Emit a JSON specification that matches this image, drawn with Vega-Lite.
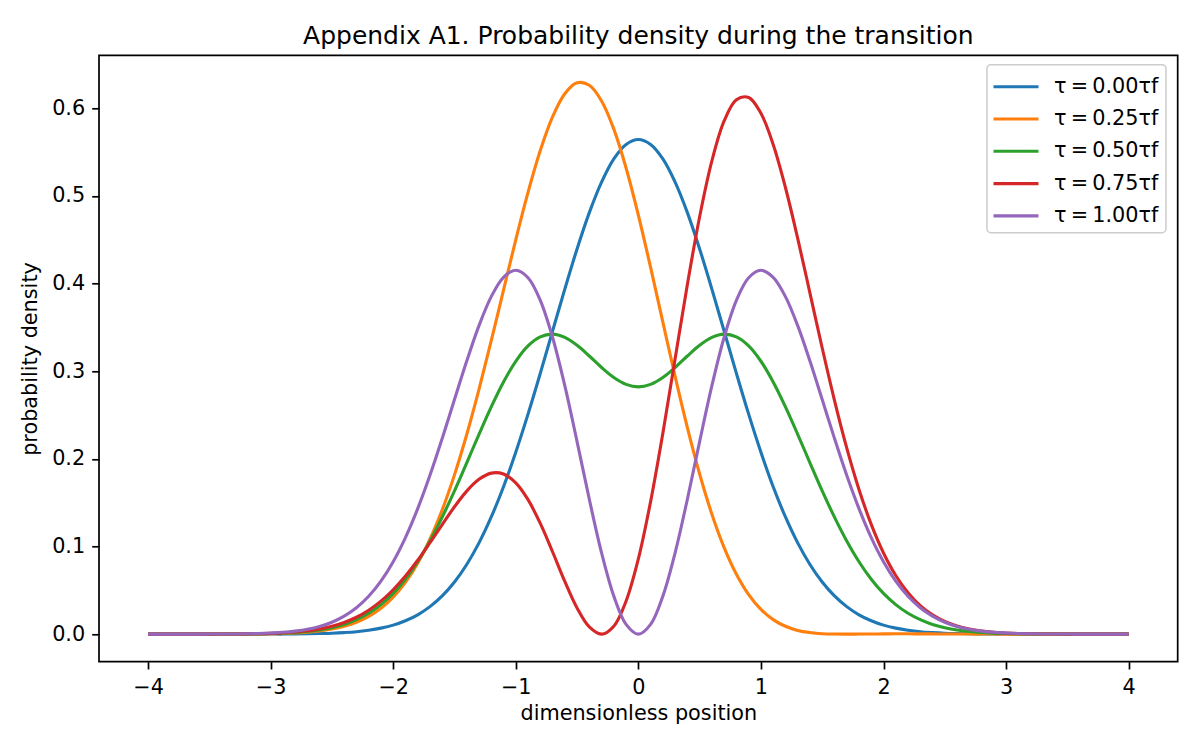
{
  "$schema": "https://vega.github.io/schema/vega-lite/v6.json",
  "width": 1078.7,
  "height": 606.4,
  "autosize": {"type": "none"},
  "padding": {"left": 99, "top": 55.3, "right": 22, "bottom": 88},
  "title": {
    "text": "Appendix A1. Probability density during the transition",
    "fontSize": 25,
    "fontWeight": "normal",
    "color": "#000000",
    "anchor": "middle",
    "offset": 6
  },
  "data": {
    "values": [
      {"s":"0.00","x":-4.0,"y":0},{"s":"0.00","x":-3.9,"y":0},{"s":"0.00","x":-3.8,"y":0},{"s":"0.00","x":-3.7,"y":0},{"s":"0.00","x":-3.6,"y":0},
      {"s":"0.00","x":-3.5,"y":0},{"s":"0.00","x":-3.4,"y":0},{"s":"0.00","x":-3.3,"y":0},{"s":"0.00","x":-3.2,"y":0},{"s":"0.00","x":-3.1,"y":0},
      {"s":"0.00","x":-3.0,"y":0.0001},{"s":"0.00","x":-2.9,"y":0.0001},{"s":"0.00","x":-2.8,"y":0.0002},{"s":"0.00","x":-2.7,"y":0.0004},{"s":"0.00","x":-2.6,"y":0.0007},
      {"s":"0.00","x":-2.5,"y":0.0011},{"s":"0.00","x":-2.4,"y":0.0018},{"s":"0.00","x":-2.3,"y":0.0028},{"s":"0.00","x":-2.2,"y":0.0045},{"s":"0.00","x":-2.1,"y":0.0069},
      {"s":"0.00","x":-2.0,"y":0.0103},{"s":"0.00","x":-1.9,"y":0.0153},{"s":"0.00","x":-1.8,"y":0.0221},{"s":"0.00","x":-1.7,"y":0.0314},{"s":"0.00","x":-1.6,"y":0.0436},
      {"s":"0.00","x":-1.5,"y":0.0595},{"s":"0.00","x":-1.4,"y":0.0795},{"s":"0.00","x":-1.3,"y":0.1041},{"s":"0.00","x":-1.2,"y":0.1337},{"s":"0.00","x":-1.1,"y":0.1682},
      {"s":"0.00","x":-1.0,"y":0.2076},{"s":"0.00","x":-0.9,"y":0.2510},{"s":"0.00","x":-0.8,"y":0.2975},{"s":"0.00","x":-0.7,"y":0.3456},{"s":"0.00","x":-0.6,"y":0.3936},
      {"s":"0.00","x":-0.5,"y":0.4394},{"s":"0.00","x":-0.4,"y":0.4808},{"s":"0.00","x":-0.3,"y":0.5156},{"s":"0.00","x":-0.2,"y":0.5421},{"s":"0.00","x":-0.1,"y":0.5586},
      {"s":"0.00","x":0.0,"y":0.5642},
      {"s":"0.00","x":0.1,"y":0.5586},{"s":"0.00","x":0.2,"y":0.5421},{"s":"0.00","x":0.3,"y":0.5156},{"s":"0.00","x":0.4,"y":0.4808},{"s":"0.00","x":0.5,"y":0.4394},
      {"s":"0.00","x":0.6,"y":0.3936},{"s":"0.00","x":0.7,"y":0.3456},{"s":"0.00","x":0.8,"y":0.2975},{"s":"0.00","x":0.9,"y":0.2510},{"s":"0.00","x":1.0,"y":0.2076},
      {"s":"0.00","x":1.1,"y":0.1682},{"s":"0.00","x":1.2,"y":0.1337},{"s":"0.00","x":1.3,"y":0.1041},{"s":"0.00","x":1.4,"y":0.0795},{"s":"0.00","x":1.5,"y":0.0595},
      {"s":"0.00","x":1.6,"y":0.0436},{"s":"0.00","x":1.7,"y":0.0314},{"s":"0.00","x":1.8,"y":0.0221},{"s":"0.00","x":1.9,"y":0.0153},{"s":"0.00","x":2.0,"y":0.0103},
      {"s":"0.00","x":2.1,"y":0.0069},{"s":"0.00","x":2.2,"y":0.0045},{"s":"0.00","x":2.3,"y":0.0028},{"s":"0.00","x":2.4,"y":0.0018},{"s":"0.00","x":2.5,"y":0.0011},
      {"s":"0.00","x":2.6,"y":0.0007},{"s":"0.00","x":2.7,"y":0.0004},{"s":"0.00","x":2.8,"y":0.0002},{"s":"0.00","x":2.9,"y":0.0001},{"s":"0.00","x":3.0,"y":0.0001},
      {"s":"0.00","x":3.1,"y":0},{"s":"0.00","x":3.2,"y":0},{"s":"0.00","x":3.3,"y":0},{"s":"0.00","x":3.4,"y":0},{"s":"0.00","x":3.5,"y":0},
      {"s":"0.00","x":3.6,"y":0},{"s":"0.00","x":3.7,"y":0},{"s":"0.00","x":3.8,"y":0},{"s":"0.00","x":3.9,"y":0},{"s":"0.00","x":4.0,"y":0},

      {"s":"0.25","x":-4.0,"y":0},{"s":"0.25","x":-3.9,"y":0},{"s":"0.25","x":-3.8,"y":0},{"s":"0.25","x":-3.7,"y":0},{"s":"0.25","x":-3.6,"y":0},
      {"s":"0.25","x":-3.5,"y":0},{"s":"0.25","x":-3.4,"y":0},{"s":"0.25","x":-3.3,"y":0.0001},{"s":"0.25","x":-3.2,"y":0.0002},{"s":"0.25","x":-3.1,"y":0.0003},
      {"s":"0.25","x":-3.0,"y":0.0005},{"s":"0.25","x":-2.9,"y":0.0008},{"s":"0.25","x":-2.8,"y":0.0013},{"s":"0.25","x":-2.7,"y":0.0022},{"s":"0.25","x":-2.6,"y":0.0036},
      {"s":"0.25","x":-2.5,"y":0.0058},{"s":"0.25","x":-2.4,"y":0.0090},{"s":"0.25","x":-2.3,"y":0.0136},{"s":"0.25","x":-2.2,"y":0.0203},{"s":"0.25","x":-2.1,"y":0.0296},
      {"s":"0.25","x":-2.0,"y":0.0423},{"s":"0.25","x":-1.9,"y":0.0591},{"s":"0.25","x":-1.8,"y":0.0809},{"s":"0.25","x":-1.7,"y":0.1083},{"s":"0.25","x":-1.6,"y":0.1418},
      {"s":"0.25","x":-1.5,"y":0.1817},{"s":"0.25","x":-1.4,"y":0.2277},{"s":"0.25","x":-1.3,"y":0.2792},{"s":"0.25","x":-1.2,"y":0.3347},{"s":"0.25","x":-1.1,"y":0.3924},
      {"s":"0.25","x":-1.0,"y":0.4498},{"s":"0.25","x":-0.9,"y":0.5039},{"s":"0.25","x":-0.8,"y":0.5517},{"s":"0.25","x":-0.7,"y":0.5901},{"s":"0.25","x":-0.6,"y":0.6165},
      {"s":"0.25","x":-0.5,"y":0.6289},{"s":"0.25","x":-0.4,"y":0.6261},{"s":"0.25","x":-0.3,"y":0.6082},{"s":"0.25","x":-0.2,"y":0.5761},{"s":"0.25","x":-0.1,"y":0.5318},
      {"s":"0.25","x":0.0,"y":0.4781},
      {"s":"0.25","x":0.1,"y":0.4184},{"s":"0.25","x":0.2,"y":0.3559},{"s":"0.25","x":0.3,"y":0.2940},{"s":"0.25","x":0.4,"y":0.2356},{"s":"0.25","x":0.5,"y":0.1827},
      {"s":"0.25","x":0.6,"y":0.1369},{"s":"0.25","x":0.7,"y":0.0988},{"s":"0.25","x":0.8,"y":0.0684},{"s":"0.25","x":0.9,"y":0.0452},{"s":"0.25","x":1.0,"y":0.0283},
      {"s":"0.25","x":1.1,"y":0.0166},{"s":"0.25","x":1.2,"y":0.0090},{"s":"0.25","x":1.3,"y":0.0043},{"s":"0.25","x":1.4,"y":0.0018},{"s":"0.25","x":1.5,"y":0.0005},
      {"s":"0.25","x":1.6,"y":0.0001},{"s":"0.25","x":1.7,"y":0},{"s":"0.25","x":1.8,"y":0.0001},{"s":"0.25","x":1.9,"y":0.0002},{"s":"0.25","x":2.0,"y":0.0003},
      {"s":"0.25","x":2.1,"y":0.0004},{"s":"0.25","x":2.2,"y":0.0004},{"s":"0.25","x":2.3,"y":0.0003},{"s":"0.25","x":2.4,"y":0.0003},{"s":"0.25","x":2.5,"y":0.0002},
      {"s":"0.25","x":2.6,"y":0.0002},{"s":"0.25","x":2.7,"y":0.0001},{"s":"0.25","x":2.8,"y":0.0001},{"s":"0.25","x":2.9,"y":0.0001},{"s":"0.25","x":3.0,"y":0},
      {"s":"0.25","x":3.1,"y":0},{"s":"0.25","x":3.2,"y":0},{"s":"0.25","x":3.3,"y":0},{"s":"0.25","x":3.4,"y":0},{"s":"0.25","x":3.5,"y":0},
      {"s":"0.25","x":3.6,"y":0},{"s":"0.25","x":3.7,"y":0},{"s":"0.25","x":3.8,"y":0},{"s":"0.25","x":3.9,"y":0},{"s":"0.25","x":4.0,"y":0},

      {"s":"0.50","x":-4.0,"y":0},{"s":"0.50","x":-3.9,"y":0},{"s":"0.50","x":-3.8,"y":0},{"s":"0.50","x":-3.7,"y":0},{"s":"0.50","x":-3.6,"y":0},
      {"s":"0.50","x":-3.5,"y":0},{"s":"0.50","x":-3.4,"y":0.0001},{"s":"0.50","x":-3.3,"y":0.0001},{"s":"0.50","x":-3.2,"y":0.0002},{"s":"0.50","x":-3.1,"y":0.0004},
      {"s":"0.50","x":-3.0,"y":0.0007},{"s":"0.50","x":-2.9,"y":0.0011},{"s":"0.50","x":-2.8,"y":0.0019},{"s":"0.50","x":-2.7,"y":0.0030},{"s":"0.50","x":-2.6,"y":0.0047},
      {"s":"0.50","x":-2.5,"y":0.0074},{"s":"0.50","x":-2.4,"y":0.0111},{"s":"0.50","x":-2.3,"y":0.0165},{"s":"0.50","x":-2.2,"y":0.0238},{"s":"0.50","x":-2.1,"y":0.0337},
      {"s":"0.50","x":-2.0,"y":0.0465},{"s":"0.50","x":-1.9,"y":0.0627},{"s":"0.50","x":-1.8,"y":0.0826},{"s":"0.50","x":-1.7,"y":0.1063},{"s":"0.50","x":-1.6,"y":0.1335},
      {"s":"0.50","x":-1.5,"y":0.1635},{"s":"0.50","x":-1.4,"y":0.1955},{"s":"0.50","x":-1.3,"y":0.2280},{"s":"0.50","x":-1.2,"y":0.2593},{"s":"0.50","x":-1.1,"y":0.2877},
      {"s":"0.50","x":-1.0,"y":0.3113},{"s":"0.50","x":-0.9,"y":0.3288},{"s":"0.50","x":-0.8,"y":0.3391},{"s":"0.50","x":-0.7,"y":0.3422},{"s":"0.50","x":-0.6,"y":0.3385},
      {"s":"0.50","x":-0.5,"y":0.3295},{"s":"0.50","x":-0.4,"y":0.3173},{"s":"0.50","x":-0.3,"y":0.3042},{"s":"0.50","x":-0.2,"y":0.2927},{"s":"0.50","x":-0.1,"y":0.2849},
      {"s":"0.50","x":0.0,"y":0.2821},
      {"s":"0.50","x":0.1,"y":0.2849},{"s":"0.50","x":0.2,"y":0.2927},{"s":"0.50","x":0.3,"y":0.3042},{"s":"0.50","x":0.4,"y":0.3173},{"s":"0.50","x":0.5,"y":0.3295},
      {"s":"0.50","x":0.6,"y":0.3385},{"s":"0.50","x":0.7,"y":0.3422},{"s":"0.50","x":0.8,"y":0.3391},{"s":"0.50","x":0.9,"y":0.3288},{"s":"0.50","x":1.0,"y":0.3113},
      {"s":"0.50","x":1.1,"y":0.2877},{"s":"0.50","x":1.2,"y":0.2593},{"s":"0.50","x":1.3,"y":0.2280},{"s":"0.50","x":1.4,"y":0.1955},{"s":"0.50","x":1.5,"y":0.1635},
      {"s":"0.50","x":1.6,"y":0.1335},{"s":"0.50","x":1.7,"y":0.1063},{"s":"0.50","x":1.8,"y":0.0826},{"s":"0.50","x":1.9,"y":0.0627},{"s":"0.50","x":2.0,"y":0.0465},
      {"s":"0.50","x":2.1,"y":0.0337},{"s":"0.50","x":2.2,"y":0.0238},{"s":"0.50","x":2.3,"y":0.0165},{"s":"0.50","x":2.4,"y":0.0111},{"s":"0.50","x":2.5,"y":0.0074},
      {"s":"0.50","x":2.6,"y":0.0047},{"s":"0.50","x":2.7,"y":0.0030},{"s":"0.50","x":2.8,"y":0.0019},{"s":"0.50","x":2.9,"y":0.0011},{"s":"0.50","x":3.0,"y":0.0007},
      {"s":"0.50","x":3.1,"y":0.0004},{"s":"0.50","x":3.2,"y":0.0002},{"s":"0.50","x":3.3,"y":0.0001},{"s":"0.50","x":3.4,"y":0.0001},{"s":"0.50","x":3.5,"y":0},
      {"s":"0.50","x":3.6,"y":0},{"s":"0.50","x":3.7,"y":0},{"s":"0.50","x":3.8,"y":0},{"s":"0.50","x":3.9,"y":0},{"s":"0.50","x":4.0,"y":0},

      {"s":"0.75","x":-4.0,"y":0},{"s":"0.75","x":-3.9,"y":0},{"s":"0.75","x":-3.8,"y":0},{"s":"0.75","x":-3.7,"y":0},{"s":"0.75","x":-3.6,"y":0},
      {"s":"0.75","x":-3.5,"y":0.0001},{"s":"0.75","x":-3.4,"y":0.0001},{"s":"0.75","x":-3.3,"y":0.0002},{"s":"0.75","x":-3.2,"y":0.0003},{"s":"0.75","x":-3.1,"y":0.0005},
      {"s":"0.75","x":-3.0,"y":0.0009},{"s":"0.75","x":-2.9,"y":0.0014},{"s":"0.75","x":-2.8,"y":0.0024},{"s":"0.75","x":-2.7,"y":0.0038},{"s":"0.75","x":-2.6,"y":0.0059},
      {"s":"0.75","x":-2.5,"y":0.0089},{"s":"0.75","x":-2.4,"y":0.0133},{"s":"0.75","x":-2.3,"y":0.0193},{"s":"0.75","x":-2.2,"y":0.0273},{"s":"0.75","x":-2.1,"y":0.0377},
      {"s":"0.75","x":-2.0,"y":0.0507},{"s":"0.75","x":-1.9,"y":0.0663},{"s":"0.75","x":-1.8,"y":0.0843},{"s":"0.75","x":-1.7,"y":0.1043},{"s":"0.75","x":-1.6,"y":0.1250},
      {"s":"0.75","x":-1.5,"y":0.1453},{"s":"0.75","x":-1.4,"y":0.1632},{"s":"0.75","x":-1.3,"y":0.1766},{"s":"0.75","x":-1.2,"y":0.1837},{"s":"0.75","x":-1.1,"y":0.1827},
      {"s":"0.75","x":-1.0,"y":0.1726},{"s":"0.75","x":-0.9,"y":0.1534},{"s":"0.75","x":-0.8,"y":0.1263},{"s":"0.75","x":-0.7,"y":0.0940},{"s":"0.75","x":-0.6,"y":0.0602},
      {"s":"0.75","x":-0.5,"y":0.0299},{"s":"0.75","x":-0.4,"y":0.0082},{"s":"0.75","x":-0.3,"y":0},{"s":"0.75","x":-0.2,"y":0.0091},{"s":"0.75","x":-0.1,"y":0.0377},
      {"s":"0.75","x":0.0,"y":0.0858},
      {"s":"0.75","x":0.1,"y":0.1512},{"s":"0.75","x":0.2,"y":0.2293},{"s":"0.75","x":0.3,"y":0.3142},{"s":"0.75","x":0.4,"y":0.3988},{"s":"0.75","x":0.5,"y":0.4762},
      {"s":"0.75","x":0.6,"y":0.5399},{"s":"0.75","x":0.7,"y":0.5854},{"s":"0.75","x":0.8,"y":0.6097},{"s":"0.75","x":0.9,"y":0.6122},{"s":"0.75","x":1.0,"y":0.5942},
      {"s":"0.75","x":1.1,"y":0.5586},{"s":"0.75","x":1.2,"y":0.5095},{"s":"0.75","x":1.3,"y":0.4515},{"s":"0.75","x":1.4,"y":0.3891},{"s":"0.75","x":1.5,"y":0.3264},
      {"s":"0.75","x":1.6,"y":0.2668},{"s":"0.75","x":1.7,"y":0.2125},{"s":"0.75","x":1.8,"y":0.1651},{"s":"0.75","x":1.9,"y":0.1252},{"s":"0.75","x":2.0,"y":0.0926},
      {"s":"0.75","x":2.1,"y":0.0669},{"s":"0.75","x":2.2,"y":0.0473},{"s":"0.75","x":2.3,"y":0.0326},{"s":"0.75","x":2.4,"y":0.0220},{"s":"0.75","x":2.5,"y":0.0145},
      {"s":"0.75","x":2.6,"y":0.0093},{"s":"0.75","x":2.7,"y":0.0059},{"s":"0.75","x":2.8,"y":0.0036},{"s":"0.75","x":2.9,"y":0.0022},{"s":"0.75","x":3.0,"y":0.0013},
      {"s":"0.75","x":3.1,"y":0.0007},{"s":"0.75","x":3.2,"y":0.0004},{"s":"0.75","x":3.3,"y":0.0002},{"s":"0.75","x":3.4,"y":0.0001},{"s":"0.75","x":3.5,"y":0.0001},
      {"s":"0.75","x":3.6,"y":0},{"s":"0.75","x":3.7,"y":0},{"s":"0.75","x":3.8,"y":0},{"s":"0.75","x":3.9,"y":0},{"s":"0.75","x":4.0,"y":0},

      {"s":"1.00","x":-4.0,"y":0},{"s":"1.00","x":-3.9,"y":0},{"s":"1.00","x":-3.8,"y":0},{"s":"1.00","x":-3.7,"y":0},{"s":"1.00","x":-3.6,"y":0},
      {"s":"1.00","x":-3.5,"y":0.0001},{"s":"1.00","x":-3.4,"y":0.0001},{"s":"1.00","x":-3.3,"y":0.0002},{"s":"1.00","x":-3.2,"y":0.0004},{"s":"1.00","x":-3.1,"y":0.0007},
      {"s":"1.00","x":-3.0,"y":0.0013},{"s":"1.00","x":-2.9,"y":0.0021},{"s":"1.00","x":-2.8,"y":0.0035},{"s":"1.00","x":-2.7,"y":0.0056},{"s":"1.00","x":-2.6,"y":0.0088},
      {"s":"1.00","x":-2.5,"y":0.0136},{"s":"1.00","x":-2.4,"y":0.0205},{"s":"1.00","x":-2.3,"y":0.0301},{"s":"1.00","x":-2.2,"y":0.0432},{"s":"1.00","x":-2.1,"y":0.0605},
      {"s":"1.00","x":-2.0,"y":0.0827},{"s":"1.00","x":-1.9,"y":0.1102},{"s":"1.00","x":-1.8,"y":0.1432},{"s":"1.00","x":-1.7,"y":0.1812},{"s":"1.00","x":-1.6,"y":0.2233},
      {"s":"1.00","x":-1.5,"y":0.2676},{"s":"1.00","x":-1.4,"y":0.3115},{"s":"1.00","x":-1.3,"y":0.3519},{"s":"1.00","x":-1.2,"y":0.3850},{"s":"1.00","x":-1.1,"y":0.4071},
      {"s":"1.00","x":-1.0,"y":0.4151},{"s":"1.00","x":-0.9,"y":0.4066},{"s":"1.00","x":-0.8,"y":0.3808},{"s":"1.00","x":-0.7,"y":0.3387},{"s":"1.00","x":-0.6,"y":0.2834},
      {"s":"1.00","x":-0.5,"y":0.2197},{"s":"1.00","x":-0.4,"y":0.1539},{"s":"1.00","x":-0.3,"y":0.0928},{"s":"1.00","x":-0.2,"y":0.0434},{"s":"1.00","x":-0.1,"y":0.0112},
      {"s":"1.00","x":0.0,"y":0},
      {"s":"1.00","x":0.1,"y":0.0112},{"s":"1.00","x":0.2,"y":0.0434},{"s":"1.00","x":0.3,"y":0.0928},{"s":"1.00","x":0.4,"y":0.1539},{"s":"1.00","x":0.5,"y":0.2197},
      {"s":"1.00","x":0.6,"y":0.2834},{"s":"1.00","x":0.7,"y":0.3387},{"s":"1.00","x":0.8,"y":0.3808},{"s":"1.00","x":0.9,"y":0.4066},{"s":"1.00","x":1.0,"y":0.4151},
      {"s":"1.00","x":1.1,"y":0.4071},{"s":"1.00","x":1.2,"y":0.3850},{"s":"1.00","x":1.3,"y":0.3519},{"s":"1.00","x":1.4,"y":0.3115},{"s":"1.00","x":1.5,"y":0.2676},
      {"s":"1.00","x":1.6,"y":0.2233},{"s":"1.00","x":1.7,"y":0.1812},{"s":"1.00","x":1.8,"y":0.1432},{"s":"1.00","x":1.9,"y":0.1102},{"s":"1.00","x":2.0,"y":0.0827},
      {"s":"1.00","x":2.1,"y":0.0605},{"s":"1.00","x":2.2,"y":0.0432},{"s":"1.00","x":2.3,"y":0.0301},{"s":"1.00","x":2.4,"y":0.0205},{"s":"1.00","x":2.5,"y":0.0136},
      {"s":"1.00","x":2.6,"y":0.0088},{"s":"1.00","x":2.7,"y":0.0056},{"s":"1.00","x":2.8,"y":0.0035},{"s":"1.00","x":2.9,"y":0.0021},{"s":"1.00","x":3.0,"y":0.0013},
      {"s":"1.00","x":3.1,"y":0.0007},{"s":"1.00","x":3.2,"y":0.0004},{"s":"1.00","x":3.3,"y":0.0002},{"s":"1.00","x":3.4,"y":0.0001},{"s":"1.00","x":3.5,"y":0.0001},
      {"s":"1.00","x":3.6,"y":0},{"s":"1.00","x":3.7,"y":0},{"s":"1.00","x":3.8,"y":0},{"s":"1.00","x":3.9,"y":0},{"s":"1.00","x":4.0,"y":0}
    ]
  },
  "mark": {"type": "line", "strokeWidth": 3.1, "interpolate": "catmull-rom", "clip": true},
  "encoding": {
    "x": {
      "field": "x",
      "type": "quantitative",
      "scale": {"domain": [-4.4, 4.4], "nice": false, "zero": false},
      "axis": {
        "title": "dimensionless position",
        "values": [-4, -3, -2, -1, 0, 1, 2, 3, 4],
        "format": "d",
        "labelPadding": 9,
        "titlePadding": 6
      }
    },
    "y": {
      "field": "y",
      "type": "quantitative",
      "scale": {"domain": [-0.0314, 0.6603], "nice": false, "zero": false},
      "axis": {
        "title": "probability density",
        "values": [0, 0.1, 0.2, 0.3, 0.4, 0.5, 0.6],
        "format": ".1f",
        "labelPadding": 7,
        "titlePadding": 11
      }
    },
    "color": {
      "field": "s",
      "type": "nominal",
      "scale": {
        "domain": ["0.00", "0.25", "0.50", "0.75", "1.00"],
        "range": ["#1f77b4", "#ff7f0e", "#2ca02c", "#d62728", "#9467bd"]
      },
      "legend": {
        "title": null,
        "orient": "none",
        "legendX": 888,
        "legendY": 9.4,
        "padding": 7,
        "fillColor": "rgba(255,255,255,0.8)",
        "strokeColor": "#cccccc",
        "cornerRadius": 4,
        "symbolType": "M-1.73,0H1.73",
        "symbolSize": 676,
        "symbolStrokeWidth": 3.1,
        "symbolOffset": 7,
        "labelOffset": 23,
        "labelFontSize": 20.8,
        "labelColor": "#000000",
        "rowPadding": 7.3,
        "labelExpr": "'τ\u2009=\u2009' + datum.label + 'τf'"
      }
    }
  },
  "config": {
    "font": "DejaVu Sans",
    "background": "white",
    "view": {"stroke": "#000000", "strokeWidth": 1.7},
    "legend": {"strokeWidth": 1.5},
    "axis": {
      "grid": false,
      "domain": false,
      "ticks": true,
      "tickColor": "#000000",
      "tickSize": 7.3,
      "tickWidth": 1.7,
      "labelFontSize": 20.8,
      "labelColor": "#000000",
      "titleFontSize": 20.8,
      "titleFontWeight": "normal",
      "titleColor": "#000000"
    }
  }
}
